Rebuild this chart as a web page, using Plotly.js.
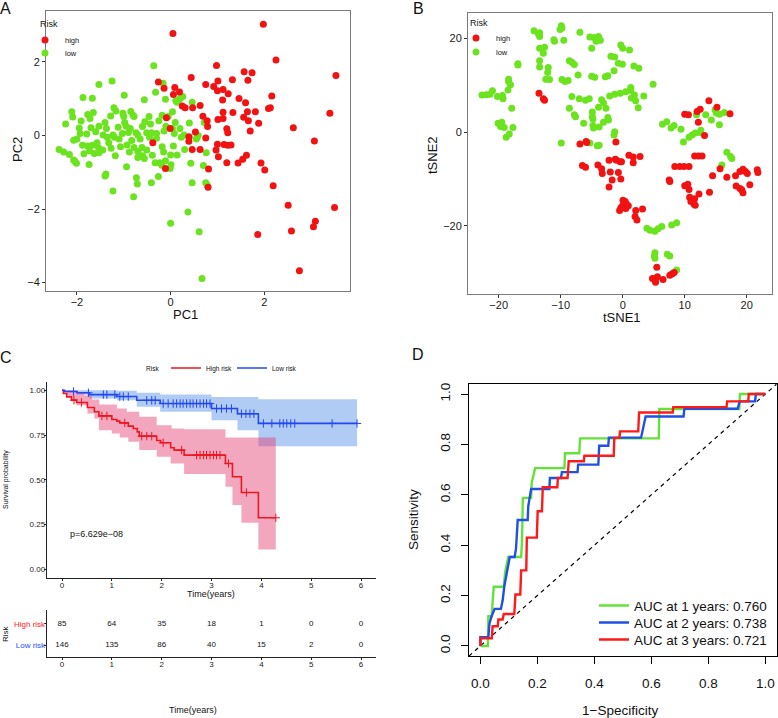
<!DOCTYPE html>
<html><head><meta charset="utf-8">
<script src="https://cdn.plot.ly/plotly-3.0.1.min.js"></script>
<style>html,body{margin:0;padding:0;background:#fff}#chart{width:778px;height:718px}</style>
</head><body><div id="chart"></div>
<script>
// ---------- Panel A: PCA ----------
const highPC1 = [1.98,0.05,2.25,0.98,3.53,1.57,1.74,0.44,1.32,1.65,1.01,-0.26,0.75,0.92,-0.14,0.09,1.12,1.00,0.19,1.23,0.06,2.16,1.46,1.11,1.60,0.25,0.31,0.47,0.63,2.13,2.09,1.64,1.81,1.12,1.33,3.40,0.69,1.56,-0.09,1.12,1.01,1.66,0.78,1.88,0.79,2.62,1.20,-0.01,1.70,0.53,1.22,0.39,0.75,3.07,0.39,1.00,1.14,1.22,1.29,-0.38,0.46,0.63,0.97,1.02,1.62,1.54,1.20,1.44,1.93,-0.11,0.81,2.01,2.19,0.80,2.51,3.50,3.09,3.05,2.58,1.86,2.75];
const highPC2 = [3.02,2.77,2.05,1.90,1.63,1.73,1.70,1.57,1.51,1.50,1.48,1.45,1.38,1.33,1.28,1.30,1.25,1.21,1.18,1.13,1.11,1.07,1.00,0.96,0.89,0.80,0.75,0.75,0.81,0.75,0.73,0.64,0.64,0.63,0.62,0.60,0.52,0.49,0.48,0.46,0.43,0.40,0.40,0.33,0.24,0.21,0.18,0.19,0.12,0.09,0.07,-0.04,-0.07,-0.15,-0.16,-0.24,-0.25,-0.27,-0.26,-0.20,-0.38,-0.38,-0.40,-0.58,-0.54,-0.65,-0.74,-0.75,-0.75,-0.90,-0.91,-0.94,-1.37,-1.41,-1.90,-1.96,-2.33,-2.48,-2.60,-2.69,-3.68];
const lowPC1 = [-0.36,-1.25,-1.53,-0.32,-0.16,-0.99,-1.87,-1.67,-0.56,-0.11,0.11,0.19,0.26,0.22,0.46,0.14,-2.11,-1.21,-1.17,-1.65,-2.09,-1.77,-1.02,-1.28,-0.80,-0.78,-1.00,-1.91,-1.72,-2.24,0.04,-0.18,-0.05,-0.46,-0.55,-0.43,-0.10,0.72,0.40,-1.53,-1.37,-1.12,-0.95,-0.86,-0.60,-1.70,-1.93,-1.79,-2.07,-1.44,-1.23,-1.03,-0.90,-0.74,-0.70,-0.51,-0.41,-0.30,-0.14,0.04,0.20,0.29,0.23,0.40,0.57,0.59,-2.38,-2.28,-2.16,-1.88,-1.77,-1.73,-1.67,-1.57,-1.54,-1.63,-1.53,-1.32,-1.35,-1.20,-1.07,-1.27,-1.18,-0.93,-0.83,-0.78,-0.70,-0.61,-0.51,-0.39,-0.33,-0.56,-0.70,-0.18,-0.23,-0.19,-0.01,0.01,-0.11,0.06,0.00,0.14,0.43,0.70,0.76,0.46,0.75,0.78,-2.07,-2.01,-2.04,-1.74,-1.38,-1.40,-0.94,-0.73,-0.71,-1.23,-0.79,-0.41,-0.26,0.37,0.00,0.61,0.67,-1.45,-1.10,-0.98,-0.65,-0.45,-0.25,0.10,-1.60,-2.00,-1.85,-0.88,-0.60,-0.30,0.30,0.55,-1.40,-0.15,0.08,-0.85,-1.95];
const lowPC2 = [1.89,1.48,1.38,1.17,1.42,1.09,1.03,1.01,0.97,0.98,0.94,0.98,1.06,1.02,0.90,0.90,0.64,0.75,0.66,0.62,0.50,0.57,0.60,0.53,0.55,0.51,0.51,0.39,0.46,0.31,0.64,0.55,0.51,0.51,0.37,0.31,0.25,0.35,0.34,0.25,0.19,0.22,0.25,0.19,0.24,0.21,0.05,0.04,-0.13,0.01,0.01,0.05,0.08,0.07,0.01,0.07,0.07,-0.08,0.12,0.19,0.19,0.01,-0.05,-0.06,-0.04,0.00,-0.38,-0.45,-0.52,-0.27,-0.29,-0.42,-0.27,-0.20,-0.33,-0.49,-0.47,-0.20,-0.05,-0.05,-0.31,-0.35,-0.55,-0.26,-0.14,-0.33,-0.44,-0.33,-0.40,-0.54,-0.74,-0.63,-0.60,-0.31,-0.74,-0.81,-0.90,-0.80,-0.69,-0.29,-0.53,-0.53,-0.76,-0.82,-0.47,-1.29,-1.29,-1.35,-0.67,-0.76,-0.71,-0.79,-1.05,-1.10,-0.85,-1.15,-1.32,-1.51,-1.67,-1.29,-1.12,-2.08,-2.39,-2.62,-3.89,-0.40,-0.10,0.35,-0.10,-0.05,0.40,0.35,0.10,-0.10,-0.50,-0.45,-0.55,0.05,-0.38,-0.10,0.35,-0.45,0.05,0.65,0.20];

// ---------- Panel B: tSNE ----------
const highT1 = [-13.5,-12.8,-12.6,-6.9,-5.9,-5.8,-1.1,-6.5,-6.0,-4.0,-3.4,-3.3,-2.2,-1.2,-1.0,-0.4,-0.2,-2.0,-1.7,-2.2,-0.7,-0.3,1.0,1.7,1.7,2.8,0.05,0.4,0.6,0.0,-0.3,0.5,0.9,-0.5,2.1,3.2,2.0,2.3,5.5,4.8,5.3,5.6,5.3,6.5,7.6,8.0,8.3,7.5,7.6,8.4,9.2,9.9,10.0,10.7,10.5,10.8,11.0,11.6,11.5,12.3,11.7,10.7,11.6,12.2,12.8,10.0,10.6,12.0,12.5,12.2,13.9,15.2,17.3,13.2,14.0,14.5,15.7,16.8,18.2,18.9,19.4,19.8,20.1,18.3,18.9,19.2,19.4,20.5,21.7,21.8];
const highT2 = [8.3,7.1,6.8,-2.5,-2.0,-2.2,-2.1,-7.1,-7.5,-7.0,-7.8,-8.8,-6.0,-5.8,-6.0,-6.3,-6.3,-8.5,-10.2,-11.7,-8.6,-10.0,-4.9,-5.3,-6.5,-5.2,-14.5,-14.8,-15.3,-15.7,-16.1,-16.3,-15.7,-16.7,-16.7,-16.4,-18.0,-18.7,-28.8,-31.2,-31.2,-30.8,-32.0,-31.4,-30.5,-30.2,-29.9,-10.2,-10.5,-7.3,-7.3,-7.3,-11.4,-12.2,-11.1,-13.9,-14.8,-14.2,-15.3,-13.2,-15.6,-7.3,-5.1,-5.1,-5.1,3.8,3.7,4.4,4.9,2.1,6.7,5.3,3.9,-0.7,-12.8,-9.3,-7.8,-9.6,-9.3,-8.4,-7.9,-8.4,-8.8,-11.5,-12.0,-12.3,-12.9,-11.2,-8.0,-8.6];
const lowT1 = [-14.3,-13.6,-13.4,-13.4,-9.9,-9.8,-10.1,-11.1,-11.0,-9.5,-6.9,-5.3,-4.6,-3.9,-3.6,-4.3,-5.0,-13.4,-12.6,-12.8,-13.4,-13.4,-12.0,-12.1,-12.4,-11.8,-9.8,-9.3,-8.8,-8.6,-8.2,-7.8,-7.2,-5.0,-4.5,-2.8,-2.4,-1.4,-1.3,-1.9,-0.7,-0.05,-0.3,0.0,1.1,1.8,2.6,-16.9,-18.4,-18.4,-18.1,-22.7,-22.0,-21.4,-21.0,-20.2,-19.4,-19.3,-18.5,-17.9,-20.1,-19.5,-19.7,-19.1,-18.8,-18.3,-17.7,-9.9,-8.2,-8.6,-7.8,-7.6,-7.0,-6.0,-5.4,-6.3,-4.9,-4.9,-4.8,-3.9,-3.4,-3.1,-2.7,-4.8,-4.7,-3.8,-3.1,-2.4,-2.3,-1.3,-1.4,-5.3,-4.1,-3.8,-2.1,-1.3,-0.4,0.5,1.3,1.3,1.4,1.9,2.1,2.5,3.4,4.9,6.4,7.1,7.8,8.3,9.4,9.8,10.7,11.2,11.9,11.7,12.4,12.6,13.4,14.9,15.1,14.3,15.6,15.6,16.4,16.8,17.4,17.6,16.0,3.9,4.4,5.2,5.7,6.3,7.9,8.7,5.2,5.1,5.2,7.2,7.6,8.7,-16.9];
const lowT2 = [21.6,21.0,21.2,20.4,22.7,22.2,21.9,19.7,19.4,19.6,21.3,20.3,20.2,20.4,19.6,19.4,17.9,17.9,18.1,16.8,15.2,13.9,13.8,12.7,11.3,11.2,11.2,10.8,11.0,15.2,14.9,14.4,12.2,11.9,11.7,11.8,12.0,13.1,16.0,16.2,14.7,14.5,18.6,17.9,17.5,14.1,13.6,14.6,11.3,10.8,10.1,7.9,8.0,8.1,8.8,7.6,7.8,7.1,9.0,5.1,1.9,2.1,1.2,1.0,-1.1,-0.4,1.0,-2.3,7.6,5.1,3.7,3.3,7.1,6.8,7.1,1.9,4.3,3.3,2.8,5.3,6.9,6.2,5.1,1.4,0.9,1.1,2.1,3.1,2.6,0.1,-0.6,-2.3,-2.9,-2.8,7.7,8.1,8.3,8.6,9.5,8.9,7.3,7.9,6.7,5.2,7.7,10.2,1.7,2.2,0.9,1.4,0.6,-2.1,-1.1,-0.6,3.7,-0.2,-0.1,0.4,3.7,4.8,4.1,2.6,1.6,3.8,4.2,-4.3,-5.2,-5.6,-7.0,-20.5,-20.9,-21.1,-20.6,-20.1,-19.8,-19.3,-25.7,-26.4,-26.9,-26.0,-26.4,-29.4,14.3];

// ---------- Panel C: Kaplan-Meier ----------
const lowKMTime = [0,0.05,0.3,0.55,1.1,1.5,1.97,3.0,3.52,3.94,5.92];
const lowKMSurv = [1.0,0.993,0.986,0.976,0.965,0.944,0.926,0.898,0.869,0.815,0.815];
const lowUpTime = [0,1.1,1.5,1.97,3.0,3.52,3.94,5.92];
const lowUpVal  = [1.0,0.997,0.986,0.976,0.963,0.963,0.950,0.950];
const lowLoTime = [0,0.05,0.3,0.55,1.1,1.5,1.97,3.0,3.52,3.94,5.92];
const lowLoVal  = [1.0,0.991,0.976,0.954,0.945,0.908,0.880,0.833,0.777,0.688,0.688];
const lowCensor = [0.23,0.53,0.83,0.9,1.06,1.16,1.23,1.33,1.7,1.8,1.87,2.03,2.13,2.23,2.3,2.37,2.43,2.5,2.57,2.63,2.7,2.77,2.84,2.9,2.97,3.1,3.2,3.3,3.4,3.6,3.69,3.77,3.85,4.04,4.21,4.37,4.44,4.51,4.59,4.67,5.42,5.92];

const highKMTime = [0,0.027,0.094,0.19,0.29,0.51,0.65,0.74,1.0,1.1,1.16,1.33,1.43,1.51,1.55,1.9,1.98,2.18,2.25,2.45,3.28,3.42,3.6,3.94,4.29];
const highKMSurv = [1.0,0.982,0.963,0.945,0.932,0.904,0.880,0.857,0.837,0.828,0.818,0.800,0.787,0.768,0.744,0.720,0.707,0.679,0.666,0.638,0.591,0.517,0.429,0.288,0.288];
const highUpTime = [0,0.3,0.45,0.6,0.75,1.1,1.3,1.55,1.9,2.2,2.45,3.28,3.42,3.6,3.94,4.29];
const highUpVal  = [1.0,0.991,0.973,0.948,0.920,0.898,0.880,0.852,0.805,0.786,0.783,0.736,0.736,0.736,0.736,0.736];
const highLoTime = [0,0.03,0.1,0.19,0.29,0.51,0.65,0.74,1.0,1.16,1.33,1.55,1.9,2.18,2.45,3.28,3.42,3.6,3.94,4.29];
const highLoVal  = [1.0,0.986,0.963,0.941,0.917,0.870,0.842,0.777,0.759,0.736,0.712,0.666,0.629,0.591,0.532,0.461,0.359,0.260,0.111,0.111];
const highCensor = [0.24,0.39,0.8,0.9,1.26,1.6,1.7,1.8,2.03,2.4,2.7,2.77,2.84,2.9,2.97,3.04,3.1,3.17,3.34,3.7,4.29];

const riskTimes = [0,1,2,3,4,5,6];
const highAtRisk = [85,64,35,18,1,0,0];
const lowAtRisk = [146,135,86,40,15,2,0];
const pValueText = 'p=6.629e\u221208';

// ---------- Panel D: time-dependent ROC ----------
const fpr1 = [0,0.026,0.028,0.04,0.043,0.047,0.082,0.087,0.098,0.143,0.146,0.149,0.178,0.180,0.192,0.295,0.297,0.347,0.350,0.626,0.628,0.909,0.911,1.0];
const tpr1 = [0,0,0.118,0.118,0.176,0.235,0.235,0.294,0.353,0.353,0.412,0.588,0.588,0.647,0.706,0.706,0.765,0.765,0.824,0.824,0.941,0.941,1.0,1.0];
const fpr2 = [0,0,0.028,0.032,0.04,0.05,0.072,0.078,0.084,0.094,0.103,0.12,0.125,0.131,0.166,0.168,0.178,0.242,0.244,0.283,0.286,0.341,0.343,0.414,0.417,0.449,0.451,0.564,0.57,0.58,0.713,0.716,0.903,0.91,0.964,0.967,1.0];
const tpr2 = [0,0.035,0.035,0.09,0.12,0.147,0.147,0.18,0.237,0.3,0.353,0.353,0.386,0.5,0.5,0.554,0.623,0.623,0.667,0.667,0.69,0.69,0.72,0.72,0.795,0.795,0.827,0.827,0.86,0.911,0.911,0.942,0.942,0.971,0.971,1.0,1.0];
const fpr3 = [0,0,0.04,0.043,0.061,0.063,0.078,0.082,0.119,0.123,0.14,0.143,0.161,0.163,0.198,0.201,0.216,0.219,0.27,0.272,0.306,0.31,0.363,0.365,0.468,0.47,0.488,0.49,0.554,0.557,0.675,0.677,0.864,0.866,0.94,0.942,1.0];
const tpr3 = [0,0.03,0.03,0.078,0.078,0.105,0.105,0.127,0.127,0.204,0.204,0.3,0.3,0.43,0.43,0.535,0.535,0.63,0.63,0.667,0.667,0.733,0.733,0.755,0.755,0.826,0.826,0.852,0.852,0.927,0.927,0.948,0.948,0.971,0.971,1.0,1.0];
const rocNames = ['AUC at 1 years: 0.760','AUC at 2 years: 0.738','AUC at 3 years: 0.721'];

// ---------- helpers & styles ----------
const W = 778, H = 718;
const px = x => x / W, py = y => 1 - y / H;
const FONT = 'Liberation Sans, Arial, Helvetica, sans-serif';
const RED = '#F21212', GREEN = '#6BE31E';
const KM_RED = '#EE1620', KM_BLUE = '#2347F2';
function stepAt(ts, ss, t) { let v = ss[0]; for (let i = 0; i < ts.length; i++) if (ts[i] <= t + 1e-9) v = ss[i]; return v; }

const traces = [];
// A
traces.push({type:'scatter', mode:'markers', x:lowPC1, y:lowPC2, xaxis:'x', yaxis:'y', name:'low', legend:'legend2', marker:{color:GREEN, size:7}});
traces.push({type:'scatter', mode:'markers', x:highPC1, y:highPC2, xaxis:'x', yaxis:'y', name:'high', legend:'legend', marker:{color:RED, size:7}});
// B
traces.push({type:'scatter', mode:'markers', x:lowT1, y:lowT2, xaxis:'x2', yaxis:'y2', name:'low', legend:'legend4', marker:{color:GREEN, size:7}});
traces.push({type:'scatter', mode:'markers', x:highT1, y:highT2, xaxis:'x2', yaxis:'y2', name:'high', legend:'legend3', marker:{color:RED, size:7}});
// C bands
traces.push({type:'scatter', mode:'lines', x:lowLoTime, y:lowLoVal, xaxis:'x3', yaxis:'y3', line:{width:0, shape:'hv'}, showlegend:false, hoverinfo:'skip'});
traces.push({type:'scatter', mode:'lines', x:lowUpTime, y:lowUpVal, xaxis:'x3', yaxis:'y3', line:{width:0, shape:'hv'}, fill:'tonexty', fillcolor:'rgba(80,140,230,0.45)', showlegend:false, hoverinfo:'skip'});
traces.push({type:'scatter', mode:'lines', x:highLoTime, y:highLoVal, xaxis:'x3', yaxis:'y3', line:{width:0, shape:'hv'}, showlegend:false, hoverinfo:'skip'});
traces.push({type:'scatter', mode:'lines', x:highUpTime, y:highUpVal, xaxis:'x3', yaxis:'y3', line:{width:0, shape:'hv'}, fill:'tonexty', fillcolor:'rgba(228,60,110,0.45)', showlegend:false, hoverinfo:'skip'});
// C curves
traces.push({type:'scatter', mode:'lines', x:highKMTime, y:highKMSurv, xaxis:'x3', yaxis:'y3', name:'High risk', legend:'legend5', line:{color:KM_RED, width:1.6, shape:'hv'}});
traces.push({type:'scatter', mode:'lines', x:lowKMTime, y:lowKMSurv, xaxis:'x3', yaxis:'y3', name:'Low risk', legend:'legend6', line:{color:KM_BLUE, width:1.6, shape:'hv'}});
traces.push({type:'scatter', mode:'markers', x:highCensor, y:highCensor.map(t=>stepAt(highKMTime, highKMSurv, t)), xaxis:'x3', yaxis:'y3', showlegend:false, marker:{symbol:'cross-thin', size:6, line:{color:KM_RED, width:1}}});
traces.push({type:'scatter', mode:'markers', x:lowCensor, y:lowCensor.map(t=>stepAt(lowKMTime, lowKMSurv, t)), xaxis:'x3', yaxis:'y3', showlegend:false, marker:{symbol:'cross-thin', size:6, line:{color:KM_BLUE, width:1}}});
// C risk table
traces.push({type:'scatter', mode:'text', x:riskTimes, y:riskTimes.map(()=>1), text:highAtRisk.map(String), xaxis:'x4', yaxis:'y4', showlegend:false, textfont:{size:8, color:'#111', family:FONT}});
traces.push({type:'scatter', mode:'text', x:riskTimes, y:riskTimes.map(()=>0), text:lowAtRisk.map(String), xaxis:'x4', yaxis:'y4', showlegend:false, textfont:{size:8, color:'#111', family:FONT}});
// D
traces.push({type:'scatter', mode:'lines', x:[-0.04,1.04], y:[-0.04,1.04], xaxis:'x5', yaxis:'y5', showlegend:false, line:{color:'#000', width:1.2, dash:'4px,4px'}});
traces.push({type:'scatter', mode:'lines', x:fpr1, y:tpr1, xaxis:'x5', yaxis:'y5', name:rocNames[0], legend:'legend7', line:{color:'#63E33A', width:2.4}});
traces.push({type:'scatter', mode:'lines', x:fpr2, y:tpr2, xaxis:'x5', yaxis:'y5', name:rocNames[1], legend:'legend8', line:{color:'#2050E6', width:2.4}});
traces.push({type:'scatter', mode:'lines', x:fpr3, y:tpr3, xaxis:'x5', yaxis:'y5', name:rocNames[2], legend:'legend9', line:{color:'#FF1A1A', width:2.4}});

const ggAxis = (domain, range, tickvals, anchor, standoff) => ({
  domain, range, tickvals, anchor, showgrid:false, zeroline:false,
  showline:true, mirror:true, linecolor:'#7a7a7a', linewidth:1,
  ticks:'outside', ticklen:3, tickcolor:'#333', tickwidth:1, ticklabelstandoff:standoff,
  tickfont:{size:11, color:'#1a1a1a', family:FONT}
});
const kmAxis = (domain, range, anchor) => ({
  domain, range, anchor, showgrid:false, zeroline:false,
  showline:true, mirror:false, linecolor:'#222', linewidth:1,
  ticks:'outside', ticklen:2, tickcolor:'#222', tickwidth:1, ticklabelstandoff:-3,
  tickfont:{size:8, color:'#222', family:FONT}
});
const rocAxis = (domain, anchor, standoff) => ({
  domain, range:[-0.04,1.04], anchor, showgrid:false, zeroline:false,
  showline:true, mirror:true, linecolor:'#000', linewidth:1,
  ticks:'outside', ticklen:7, tickcolor:'#000', tickwidth:1,
  tickvals:[0,0.2,0.4,0.6,0.8,1.0], tickformat:'.1f', ticklabelstandoff:standoff,
  tickfont:{size:13.5, color:'#111', family:FONT}
});
const leg = (x, y, size) => ({x:px(x), y:py(y), xanchor:'left', yanchor:'middle', bgcolor:'rgba(0,0,0,0)', borderwidth:0, font:{size, color:'#111', family:FONT}, itemwidth:30});

const ann = (text, x, y, size, opts={}) => Object.assign({text, x:px(x), y:py(y), xref:'paper', yref:'paper', showarrow:false, xanchor:'center', yanchor:'middle', font:{size, color:'#111', family:FONT}}, opts);

const layout = {
  width: W, height: H, autosize:false,
  margin:{l:0, r:0, t:0, b:0, pad:0},
  paper_bgcolor:'#fff', plot_bgcolor:'#fff',
  font:{family:FONT},
  xaxis: ggAxis([px(46), px(350)], [-2.66, 3.83], [-2,0,2], 'y', -2),
  yaxis: ggAxis([py(290.7), py(11)], [-4.22, 3.38], [-4,-2,0,2], 'x', 0),
  xaxis2: ggAxis([px(468), px(772)], [-24.95, 24.08], [-20,-10,0,10,20], 'y2', -2),
  yaxis2: ggAxis([py(294), py(13)], [-34.5, 25.4], [-20,0,20], 'x2', 0),
  xaxis3: Object.assign(kmAxis([px(46.7), px(376)], [-0.307, 6.3], 'y3'), {tickvals:riskTimes}),
  yaxis3: Object.assign(kmAxis([py(578.3), py(381.7)], [-0.05, 1.048], 'x3'), {tickvals:[0,0.25,0.5,0.75,1], tickformat:'.2f'}),
  xaxis4: Object.assign(kmAxis([px(46.7), px(376)], [-0.307, 6.3], 'y4'), {tickvals:riskTimes}),
  yaxis4: Object.assign(kmAxis([py(657.3), py(610)], [-0.557, 1.636], 'x4'), {tickvals:[0,1], ticktext:['<span style="color:#2a4cff">Low risk</span>','<span style="color:#ff1a1a">High risk</span>']}),
  xaxis5: rocAxis([px(469), px(776.7)], 'y5', 8),
  yaxis5: Object.assign(rocAxis([py(656), py(384)], 'x5', 6), {tickangle:-90}),
  legend: leg(25, 40, 7.5),
  legend2: leg(25, 53, 7.5),
  legend3: leg(456, 38, 7.5),
  legend4: leg(456, 52, 7.5),
  legend5: leg(166, 368, 6.5),
  legend6: leg(232, 368, 6.5),
  legend7: leg(594, 605.7, 13.5),
  legend8: leg(594, 622.7, 13.5),
  legend9: leg(594, 639.7, 13.5),
  annotations: [
    ann('A', 5, 8, 16),
    ann('B', 418, 8, 16),
    ann('C', 6, 357, 16),
    ann('D', 418, 354, 16),
    ann('Risk', 38, 24, 9, {xanchor:'left'}),
    ann('Risk', 468, 23, 9, {xanchor:'left'}),
    ann('Risk', 161, 368, 6.5, {xanchor:'right'}),
    ann('PC1', 185, 314, 13),
    ann('PC2', 18, 150, 13, {textangle:-90}),
    ann('tSNE1', 622, 317, 13),
    ann('tSNE2', 433, 155, 13, {textangle:-90}),
    ann('Time(years)', 211, 594, 9),
    ann('Survival probability', 6, 480, 7, {textangle:-90}),
    ann(pValueText, 68, 534, 9, {xanchor:'left'}),
    ann('Risk', 5, 634, 8, {textangle:-90}),
    ann('Time(years)', 193, 710, 9),
    ann('Sensitivity', 413, 520, 13.5, {textangle:-90}),
    ann('1\u2212Specificity', 620, 710, 13.5)
  ]
};

Plotly.newPlot('chart', traces, layout, {displayModeBar:false, staticPlot:true});
</script>
</body></html>
